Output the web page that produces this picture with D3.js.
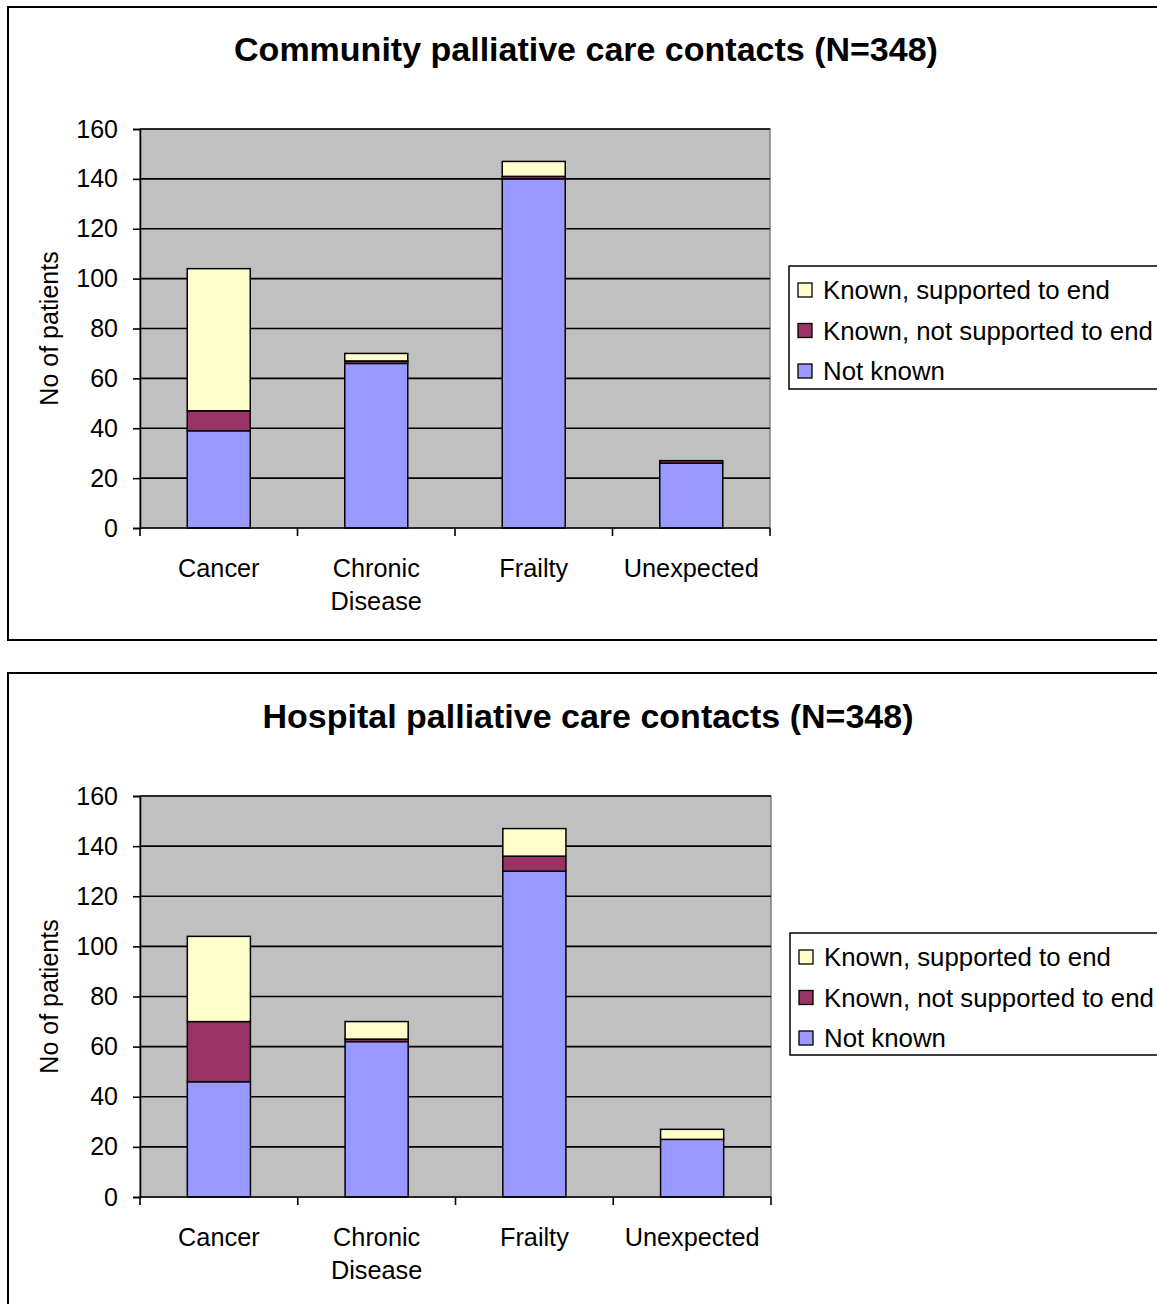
<!DOCTYPE html>
<html>
<head>
<meta charset="utf-8">
<script src="https://cdn.jsdelivr.net/npm/d3@7"></script>
<style>
  html, body { margin: 0; padding: 0; background: #fff; }
  svg { display: block; font-family: "Liberation Sans", Arial, sans-serif; }
</style>
</head>
<body>
<svg id="chart" width="1157" height="1304"></svg>
<script>
// Categories and series
const categories = ["Cancer", "Chronic Disease", "Frailty", "Unexpected"];
const seriesNames = ["Not known", "Known, not supported to end", "Known, supported to end"];
const seriesColors = ["#9999FF", "#993366", "#FFFFCC"];
const yTicks = [0, 20, 40, 60, 80, 100, 120, 140, 160];

// Community contacts
const communityNotKnown = [39, 66, 140, 26];
const communityNotSupported = [8, 1, 1, 1];
const communitySupported = [57, 3, 6, 0];

// Hospital contacts
const hospitalNotKnown = [46, 62, 130, 23];
const hospitalNotSupported = [24, 1, 6, 0];
const hospitalSupported = [34, 7, 11, 4];

const svg = d3.select("#chart");

function drawChart(cfg) {
  const g = svg.append("g");

  // outer frame (runs off the right edge)
  g.append("rect")
    .attr("x", cfg.frame[0]).attr("y", cfg.frame[1])
    .attr("width", cfg.frame[2]).attr("height", cfg.frame[3])
    .attr("fill", "#fff").attr("stroke", "#000").attr("stroke-width", 2);

  g.append("text")
    .attr("x", cfg.titleX).attr("y", cfg.titleY)
    .attr("text-anchor", "middle")
    .attr("font-size", 34).attr("font-weight", "bold")
    .text(cfg.title);

  const x = d3.scaleBand().domain(categories).range([cfg.left, cfg.right]).paddingInner(0).paddingOuter(0);
  const y = d3.scaleLinear().domain([0, 160]).range([cfg.bottom, cfg.top]);

  // plot background
  g.append("rect")
    .attr("x", cfg.left).attr("y", cfg.top)
    .attr("width", cfg.right - cfg.left).attr("height", cfg.bottom - cfg.top)
    .attr("fill", "#C0C0C0").attr("stroke", "#808080").attr("stroke-width", 1.5);

  // gridlines
  g.append("g").selectAll("line").data(yTicks.filter(t => t > 0)).join("line")
    .attr("x1", cfg.left).attr("x2", cfg.right)
    .attr("y1", d => y(d)).attr("y2", d => y(d))
    .attr("stroke", "#000").attr("stroke-width", 1.6);

  // stacked bars
  const rows = categories.map((c, i) => {
    const r = { cat: c };
    seriesNames.forEach((s, k) => { r[s] = cfg.series[k][i]; });
    return r;
  });
  const stacked = d3.stack().keys(seriesNames)(rows);
  const bw = x.bandwidth() * 0.4;
  stacked.forEach((layer, k) => {
    g.append("g").selectAll("rect").data(layer).join("rect")
      .attr("x", d => x(d.data.cat) + (x.bandwidth() - bw) / 2)
      .attr("width", bw)
      .attr("y", d => y(d[1]))
      .attr("height", d => Math.max(0, y(d[0]) - y(d[1])))
      .attr("fill", seriesColors[k])
      .attr("stroke", "#000").attr("stroke-width", 1.5)
      .attr("display", d => d[1] - d[0] > 0 ? null : "none");
  });

  // y axis
  const yAxis = g.append("g").attr("transform", `translate(${cfg.left},0)`)
    .call(d3.axisLeft(y).tickValues(yTicks).tickSize(7).tickPadding(15));
  yAxis.select(".domain").attr("stroke", "#000").attr("stroke-width", 1.6);
  yAxis.selectAll(".tick line").attr("stroke", "#000").attr("stroke-width", 1.6);
  yAxis.selectAll(".tick text").attr("font-size", 25).attr("fill", "#000")
    .attr("font-family", "'Liberation Sans', Arial, sans-serif");

  // x axis: ticks on category boundaries
  g.append("line")
    .attr("x1", cfg.left).attr("x2", cfg.right)
    .attr("y1", cfg.bottom).attr("y2", cfg.bottom)
    .attr("stroke", "#000").attr("stroke-width", 1.6);
  const bounds = categories.map(c => x(c)).concat([cfg.right]);
  g.append("g").selectAll("line").data(bounds).join("line")
    .attr("x1", d => d).attr("x2", d => d)
    .attr("y1", cfg.bottom).attr("y2", cfg.bottom + 8)
    .attr("stroke", "#000").attr("stroke-width", 1.6);

  g.append("g").selectAll("text").data(categories).join("text")
    .attr("text-anchor", "middle")
    .attr("font-size", 25.3)
    .attr("transform", d => `translate(${x(d) + x.bandwidth() / 2},${cfg.bottom + 49})`)
    .each(function (d) {
      const words = d.split(" ");
      d3.select(this).selectAll("tspan").data(words).join("tspan")
        .attr("x", 0).attr("dy", (w, i) => i === 0 ? 0 : 33).text(w => w);
    });

  // y axis title
  g.append("text")
    .attr("transform", `translate(${cfg.yLabelX},${(cfg.top + cfg.bottom) / 2}) rotate(-90)`)
    .attr("text-anchor", "middle").attr("font-size", 25)
    .text("No of patients");

  // legend
  const lg = g.append("g");
  lg.append("rect")
    .attr("x", cfg.legend[0]).attr("y", cfg.legend[1])
    .attr("width", 420).attr("height", cfg.legend[2])
    .attr("fill", "#fff").attr("stroke", "#000").attr("stroke-width", 1.5);
  const order = [2, 1, 0];
  order.forEach((k, i) => {
    const cy = cfg.legend[1] + 24 + i * 40.5;
    lg.append("rect")
      .attr("x", cfg.legend[0] + 9).attr("y", cy - 7)
      .attr("width", 14).attr("height", 14)
      .attr("fill", seriesColors[k]).attr("stroke", "#000").attr("stroke-width", 1.3);
    lg.append("text")
      .attr("x", cfg.legend[0] + 34).attr("y", cy + 9)
      .attr("font-size", 25.8).text(seriesNames[k]);
  });
}

drawChart({
  frame: [8, 7, 1200, 633],
  title: "Community palliative care contacts (N=348)",
  titleX: 586, titleY: 61,
  left: 140, right: 770, top: 129, bottom: 528,
  yLabelX: 58,
  legend: [789, 266, 123],
  series: [communityNotKnown, communityNotSupported, communitySupported]
});

drawChart({
  frame: [8, 673, 1200, 700],
  title: "Hospital palliative care contacts (N=348)",
  titleX: 588, titleY: 728,
  left: 140, right: 771, top: 796, bottom: 1197,
  yLabelX: 58,
  legend: [790, 933, 122],
  series: [hospitalNotKnown, hospitalNotSupported, hospitalSupported]
});
</script>
</body>
</html>
